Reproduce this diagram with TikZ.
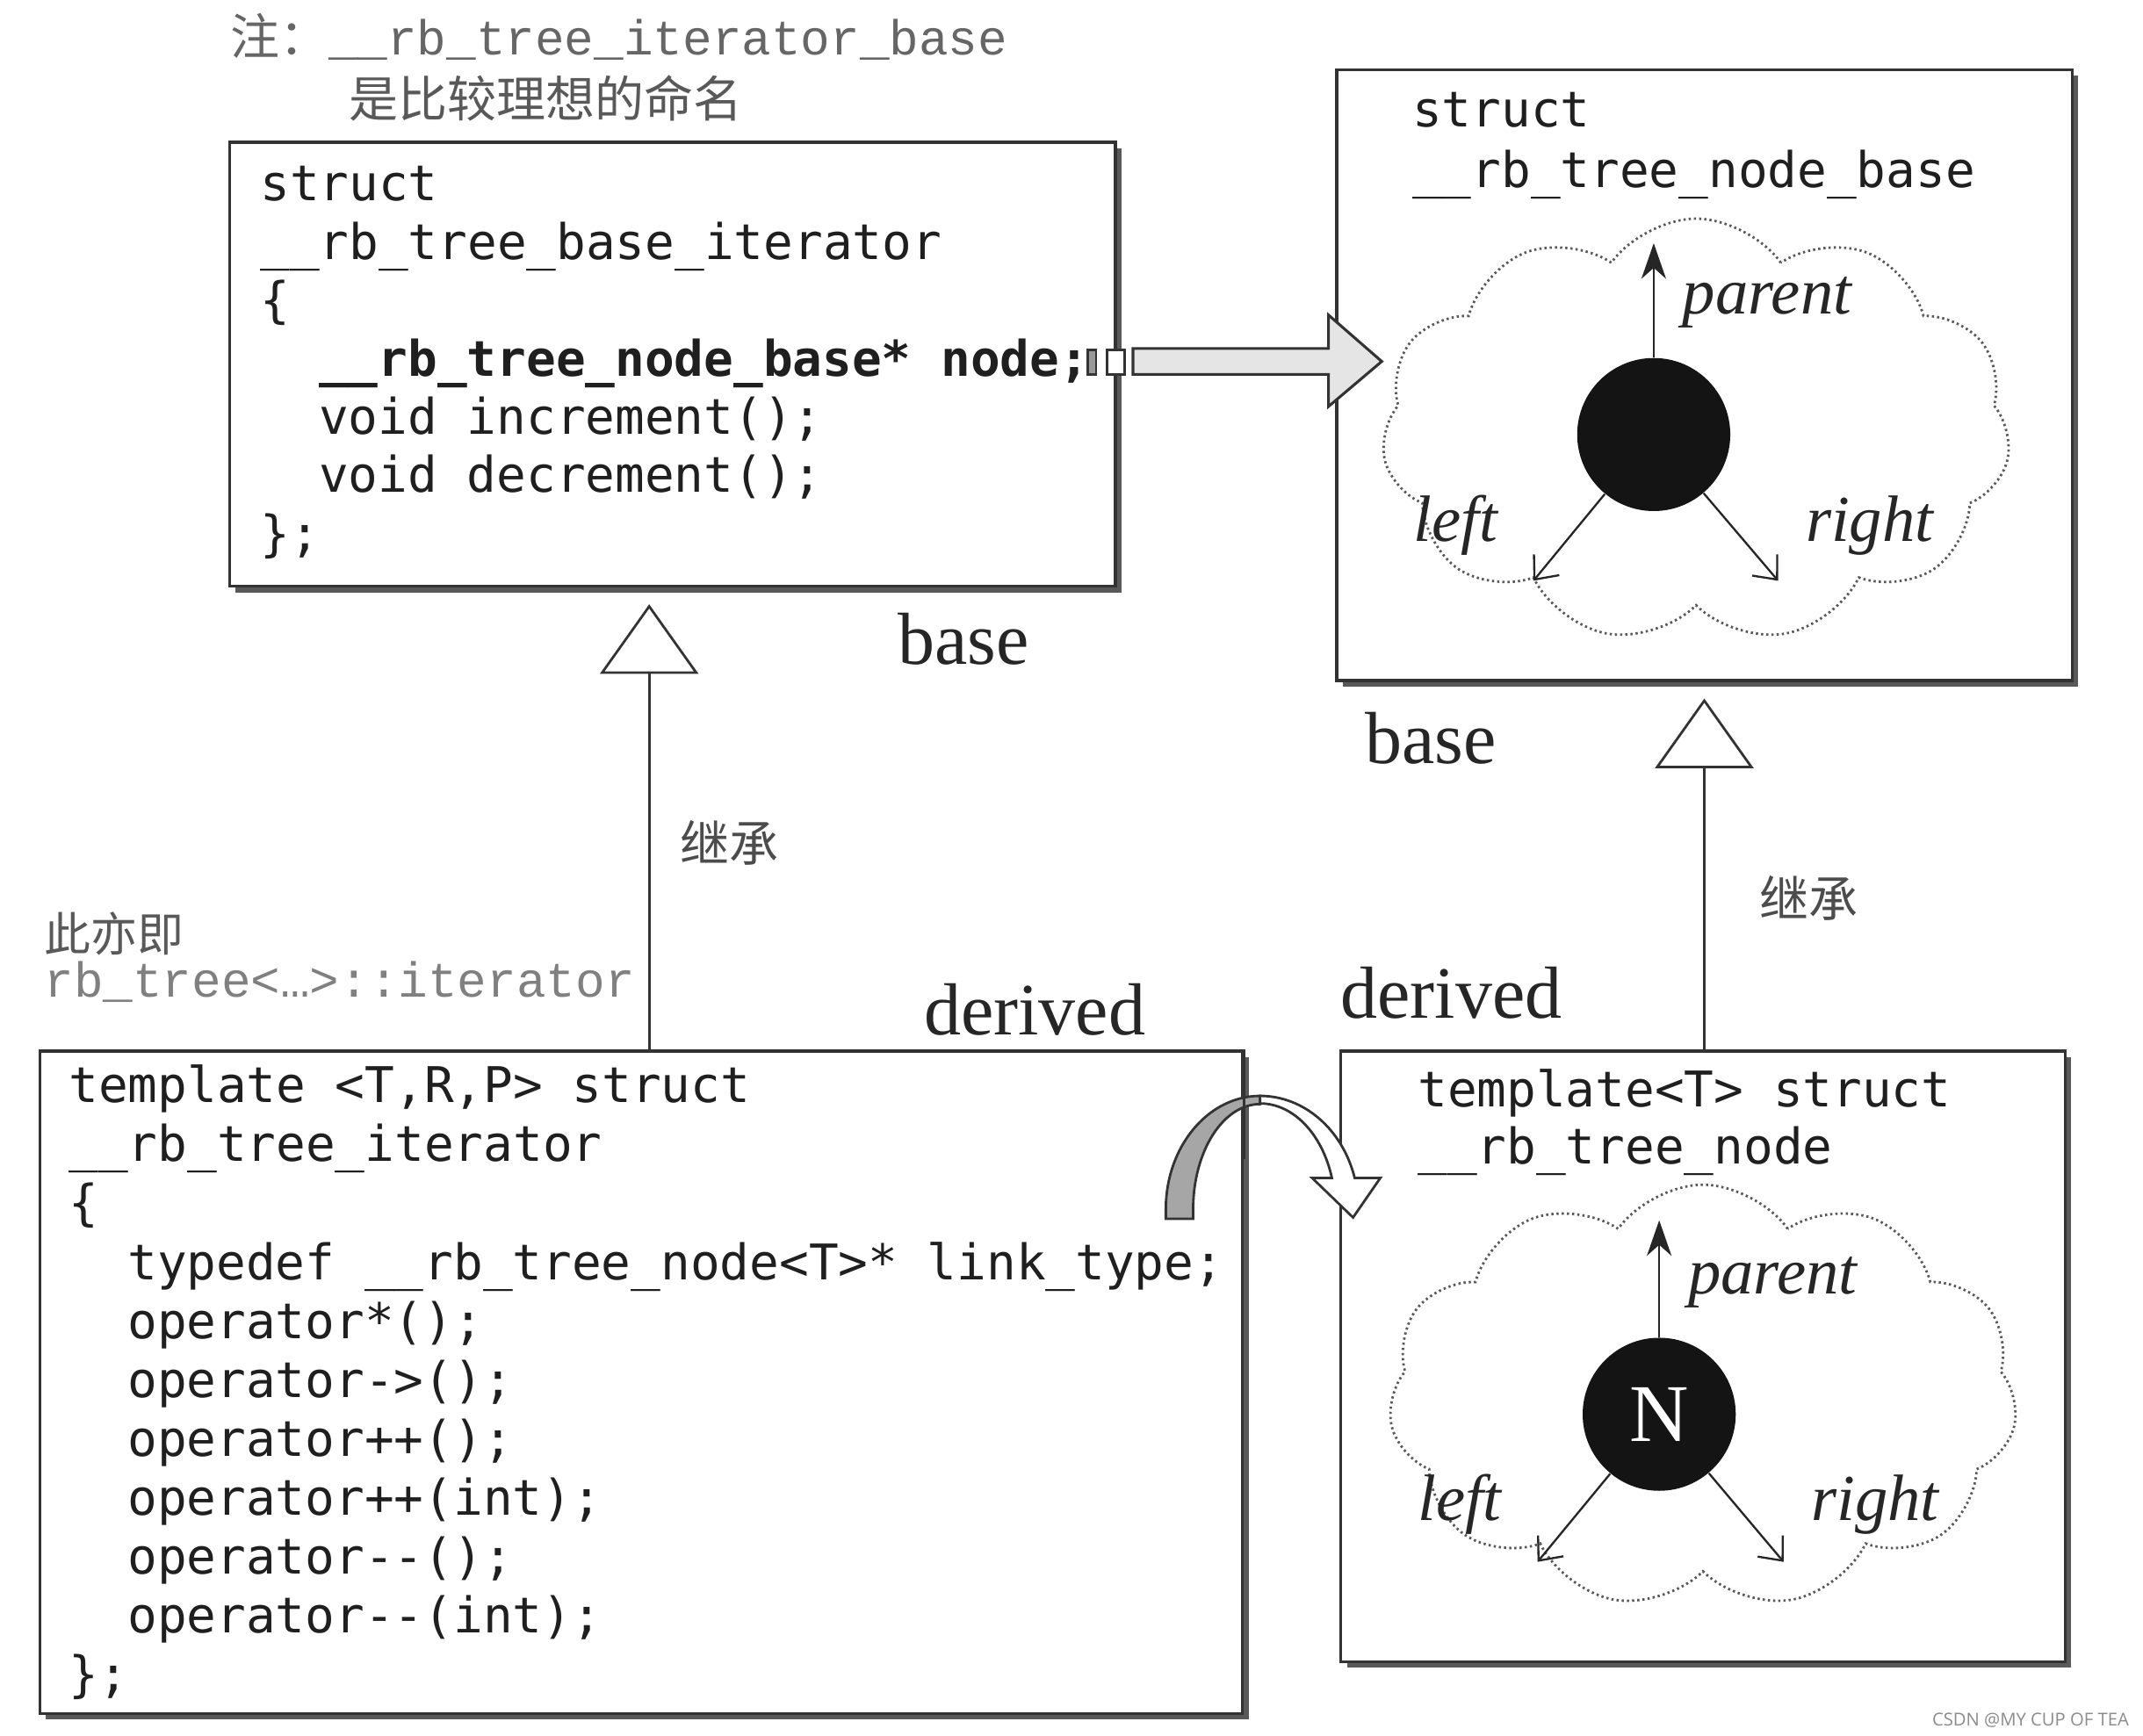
\documentclass[tikz,border=0pt]{standalone}
\usepackage{fontspec}
\setmainfont{Liberation Serif}
\setmonofont{DejaVu Sans Mono}
\newfontfamily\cjk{Noto Sans CJK SC}
\newfontfamily\notemono{Liberation Mono}
\newfontfamily\wmfont{Open Sans}
\usetikzlibrary{shapes.symbols,arrows.meta,calc,shadows}
\tikzset{
  box/.style={draw=black!80, line width=1.1pt, fill=white, inner sep=0pt, anchor=north west,
    drop shadow={shadow xshift=2.2pt, shadow yshift=-2.2pt, fill=black!65, opacity=1}},
  codeln/.style={font=\ttfamily\fontsize{18}{21}\selectfont, text=black!88, inner sep=0pt, anchor=base west},
  lbl/.style={font=\fontsize{27}{30}\selectfont, text=black!85, inner sep=0pt, anchor=base},
  ptrlbl/.style={font=\itshape\fontsize{24}{26}\selectfont, text=black!85, inner sep=0pt, anchor=base},
  cjklbl/.style={font=\cjk\fontsize{18}{20}\selectfont, text=black!65, inner sep=0pt, anchor=base west},
  monolbl/.style={font=\notemono\fontsize{18}{20}\selectfont, text=black!50, inner sep=0pt, anchor=base west},
  cloudshape/.style={cloud, cloud puffs=11, cloud puff arc=110, draw=black!65,
    dash pattern=on 0.8pt off 1.1pt, line width=0.9pt, inner sep=0pt,
    minimum width=230pt, minimum height=155pt, aspect=1.48},
  rbnode/.style={circle, fill=black!92, inner sep=0pt, minimum size=56pt},
  uparr/.style={draw=black!85, line width=0.75pt, -{Stealth[length=13pt, width=9pt, inset=4pt]}},
  sidearr/.style={draw=black!85, line width=0.75pt, -{Straight Barb[length=7pt, width=12pt]}},
  inherit/.style={draw=black!80, line width=0.9pt, -{Triangle[open, fill=white, length=25.5pt, width=36pt]}, shorten >=6pt},
  blockarrow/.style={draw=black!80, line width=1pt, fill=black!10},
  ribbongrey/.style={draw=black!80, line width=0.9pt, fill=black!35},
  ribbonwhite/.style={draw=black!80, line width=0.9pt, fill=white},
  tinyrect/.style={draw=black!80, line width=0.8pt},
}
\begin{document}
\begin{tikzpicture}[x=0.5pt, y=-0.5pt]
\fill[white] (0,0) rectangle (1568,1270);
\useasboundingbox (0,0) rectangle (1568,1270);

% ---------------- note ----------------
\node[anchor=base west, inner sep=0pt, text=black!60] (note1) at (168,40)
  {{\cjk\fontsize{18}{20}\selectfont 注：}{\notemono\fontsize{18}{20}\selectfont \_\_rb\_tree\_iterator\_base}};
\node[cjklbl] (note2) at (255,86) {是比较理想的命名};

% ---------------- boxes ----------------
\node[box, minimum width=324pt, minimum height=162.5pt] (b1) at (167,103) {};
\node[box, minimum width=269pt, minimum height=223.5pt] (b2) at (977,50) {};
\node[box, minimum width=440pt, minimum height=242.5pt] (b3) at (28,768) {};
\node[box, minimum width=265pt, minimum height=223.5pt] (b4) at (980,768) {};

% ---------------- box 1 code ----------------
\foreach \x/\t [count=\i] in {
  0/struct,
  0/\_\_rb\_tree\_base\_iterator,
  0/\{,
  1/\textbf{\_\_rb\_tree\_node\_base* node;},
  1/void increment();,
  1/void decrement();,
  0/\};}
  \node[codeln] (b1l\i) at (190+43*\x, 147+42.7*\i-42.7) {\t};

% ---------------- box 2 ----------------
\node[codeln] (b2l1) at (1033,93) {struct};
\node[codeln] (b2l2) at (1033,137) {\_\_rb\_tree\_node\_base};
\node[cloudshape] (c2) at (1241,315) {};
\node[rbnode] (n1) at (1210,318) {};
\coordinate (n1up) at (1210,178);
\coordinate (n1l) at (1122,425);
\coordinate (n1r) at (1301,425);
\draw[uparr] (n1) -- (n1up);
\draw[sidearr] (n1) -- (n1l);
\draw[sidearr] (n1) -- (n1r);
\node[ptrlbl] (par1) at (1293,230) {parent};
\node[ptrlbl] (lef1) at (1065,396) {left};
\node[ptrlbl] (rig1) at (1368,396) {right};

% ---------------- box 3 code ----------------
\foreach \x/\t [count=\i] in {
  0/{template <T,R,P> struct},
  0/\_\_rb\_tree\_iterator,
  0/\{,
  1/typedef \_\_rb\_tree\_node<T>* link\_type;,
  1/operator*();,
  1/operator->();,
  1/operator++();,
  1/operator++(int);,
  1/operator--();,
  1/operator--(int);,
  0/\};}
  \node[codeln] (b3l\i) at (50+43*\x, 807+43.1*\i-43.1) {\t};

% ---------------- box 4 ----------------
\node[codeln] (b4l1) at (1037,810) {template<T> struct};
\node[codeln] (b4l2) at (1037,852) {\_\_rb\_tree\_node};
\node[cloudshape] (c4) at (1246,1022) {};
\node[rbnode, text=white, font=\fontsize{30}{30}\selectfont] (n2) at (1214,1035) {N};
\coordinate (n2up) at (1214,893);
\coordinate (n2l) at (1125,1143);
\coordinate (n2r) at (1305,1143);
\draw[uparr] (n2) -- (n2up);
\draw[sidearr] (n2) -- (n2l);
\draw[sidearr] (n2) -- (n2r);
\node[ptrlbl] (par2) at (1297,947) {parent};
\node[ptrlbl] (lef2) at (1068,1113) {left};
\node[ptrlbl] (rig2) at (1372,1113) {right};

% ---------------- pointer block arrow (box1 -> box2) ----------------
\draw[tinyrect, fill=black!40] (796,256) rectangle (802,274);
\draw[tinyrect, fill=white] (810,256) rectangle (823,274);
\coordinate (ptrS) at (829,264.5);
\coordinate (ptrE) at (1011,264.5);
\draw[blockarrow] ($(ptrS)+(0,-9.5)$) -- ($(ptrE)+(-39,-9.5)$) -- ($(ptrE)+(-39,-34)$)
  -- (ptrE) -- ($(ptrE)+(-39,33)$) -- ($(ptrE)+(-39,9.5)$) -- ($(ptrS)+(0,9.5)$) -- cycle;

% ---------------- inheritance ----------------
\coordinate (lx) at (475,0);
\coordinate (rx) at (1247,0);
\draw[inherit] (b3.north -| lx) -- (b1.south -| lx);
\draw[inherit] (b4.north -| rx) -- (b2.south -| rx);
\node[cjklbl, text=black!70] (inh1) at (497,631) {继承};
\node[cjklbl, text=black!70] (inh2) at (1287,671) {继承};

% ---------------- base / derived labels ----------------
\node[lbl] (base1) at (705,486) {base};
\node[lbl] (base2) at (1047,559) {base};
\node[lbl] (der1) at (757,757) {derived};
\node[lbl] (der2) at (1062,745) {derived};

% ---------------- alias note ----------------
\node[cjklbl, font=\cjk\fontsize{17}{20}\selectfont, text=black!65] (alias1) at (32,696) {此亦即};
\node[monolbl] (alias2) at (32,730) {rb\_tree<…>::iterator};

% ---------------- curved ribbon arrow (box3 -> box4) ----------------
\draw[ribbongrey] (853,892) -- (853,885)
  arc[start angle=180, end angle=270, x radius=69, y radius=83]
  -- (922,808)
  arc[start angle=270, end angle=180, x radius=49, y radius=77]
  -- (873,892) -- cycle;
\draw[ribbonwhite] (922,802)
  arc[start angle=270, end angle=344, x radius=72, y radius=83]
  -- (1010,862) -- (990,891) -- (960,862) -- (974.5,862)
  arc[start angle=343, end angle=270, x radius=55, y radius=77]
  -- cycle;
\draw[draw=black!80, line width=1.1pt] (b3.north east) -- ($(b3.north east)+(0,80)$);

% ---------------- watermark ----------------
\node[anchor=base east, inner sep=0pt, text=black!45, font=\wmfont\fontsize{6.5}{8}\selectfont] (wm) at (1558,1263) {CSDN @MY CUP OF TEA};
\end{tikzpicture}
\end{document}
